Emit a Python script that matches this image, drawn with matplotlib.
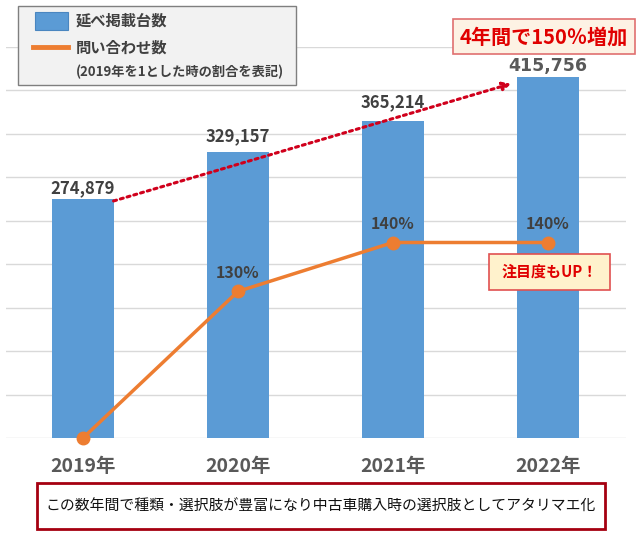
import matplotlib
matplotlib.use("Agg")
import matplotlib.pyplot as plt
from matplotlib.patches import Rectangle
from matplotlib.lines import Line2D

plt.rcParams['font.family'] = ['Noto Sans CJK JP', 'DejaVu Sans']

# data
years = ["2019年", "2020年", "2021年", "2022年"]
listings = [274879, 329157, 365214, 415756]
inquiry_ratio = [1.0, 1.3, 1.4, 1.4]

W, H = 640, 536
fig = plt.figure(figsize=(W / 100, H / 100), dpi=100)


def px_rect(x0, y0, x1, y1, **kw):
    # rectangle given in pixel coords (origin top-left)
    r = Rectangle((x0 / W, 1 - y1 / H), (x1 - x0) / W, (y1 - y0) / H,
                  transform=fig.transFigure, **kw)
    fig.add_artist(r)
    return r


ax = fig.add_axes([5.5 / W, 98 / H, 620 / W, 391 / H])
x = list(range(len(years)))
bw = 0.4
ax.bar(x, listings, width=bw, color="#5B9BD5", zorder=2)
ax.set_xlim(-0.5, 3.5)
ax.set_ylim(0, 450000)
ax.set_yticks(range(0, 450001, 50000))
ax.set_yticklabels([])
ax.yaxis.grid(True, color="#d9d9d9", linewidth=1)
ax.set_axisbelow(True)
ax.tick_params(axis="both", length=0)
ax.tick_params(axis="x", pad=14)
ax.set_xticks(x)
ax.set_xticklabels(years, fontsize=14, fontweight="bold", color="#595959")
for s in ax.spines.values():
    s.set_visible(False)

# bar value labels (offset of label centre above the bar, points)
label_offsets = [8, 11.5, 13.5, 7.5]
for i, v in enumerate(listings):
    if i == len(listings) - 1:
        ax.annotate(f"{v:,}", (i, v), xytext=(0, label_offsets[i]), textcoords="offset points",
                    ha="center", va="center", fontsize=12.5, fontweight="bold",
                    color="#595959", family=["DejaVu Sans"])
    else:
        ax.annotate(f"{v:,}", (i, v), xytext=(0, label_offsets[i]), textcoords="offset points",
                    ha="center", va="center", fontsize=12, fontweight="bold", color="#404040")

# red dotted arrow
ax.annotate("", xy=(x[-1] - bw / 2 - 0.02, listings[-1] - 7000),
            xytext=(x[0] + bw / 2 - 0.02, listings[0] - 3000),
            arrowprops=dict(arrowstyle="-|>", color="#d0001c", linestyle=(0, (1, 1.3)),
                            linewidth=2.2, mutation_scale=12), zorder=5)

# line on secondary axis
ax2 = ax.twinx()
ax2.set_ylim(1.0, 1.8)
ax2.plot(x, inquiry_ratio, color="#ED7D31", linewidth=2.5, marker="o",
         markersize=9, clip_on=False, zorder=3)
ax2.set_yticks([])
for s in ax2.spines.values():
    s.set_visible(False)
for i, r in enumerate(inquiry_ratio):
    if i == 0:
        continue
    ax2.annotate(f"{r * 100:.0f}%", (i, r), xytext=(0, 13), textcoords="offset points",
                 ha="center", va="center", fontsize=11.5, fontweight="bold", color="#404040")

# legend box
px_rect(18, 6, 296, 85, facecolor="#f2f2f2", edgecolor="#7f7f7f", linewidth=1, zorder=10)
px_rect(35, 12, 68, 30, facecolor="#5B9BD5", edgecolor="#4a86c0", linewidth=0.8, zorder=11)
fig.add_artist(Line2D([33 / W, 68 / W], [1 - 47 / H, 1 - 47 / H], color="#ED7D31",
                      linewidth=3.5, transform=fig.transFigure, zorder=11))
fig.text(76 / W, 1 - 21 / H, "延べ掲載台数", fontsize=11, fontweight="bold",
         color="#404040", va="center", ha="left", zorder=12)
fig.text(76 / W, 1 - 48 / H, "問い合わせ数", fontsize=11, fontweight="bold",
         color="#404040", va="center", ha="left", zorder=12)
fig.text(76 / W, 1 - 72 / H, "(2019年を1とした時の割合を表記)", fontsize=9.5,
         fontweight="bold", color="#404040", va="center", ha="left", zorder=12)

# callouts
px_rect(453, 19, 635, 54, facecolor="#fdf2e4", edgecolor="#e07070", linewidth=1.2, zorder=10)
fig.text(544 / W, 1 - 37 / H, "4年間で150％増加", fontsize=14.5, fontweight="bold",
         color="#e00000", ha="center", va="center", zorder=12)
px_rect(489, 254, 610, 290, facecolor="#fff2cc", edgecolor="#e05050", linewidth=1.2, zorder=10)
fig.text(549.5 / W, 1 - 272 / H, "注目度もUP！", fontsize=10.8, fontweight="bold",
         color="#e00000", ha="center", va="center", zorder=12)

# bottom note
px_rect(37, 483, 605, 529, facecolor="white", edgecolor="#a50010", linewidth=2, zorder=10)
fig.text(321 / W, 1 - 507 / H, "この数年間で種類・選択肢が豊富になり中古車購入時の選択肢としてアタリマエ化",
         fontsize=10.7, color="#111111", ha="center", va="center", zorder=12)

fig.savefig("out.png", dpi=100)
